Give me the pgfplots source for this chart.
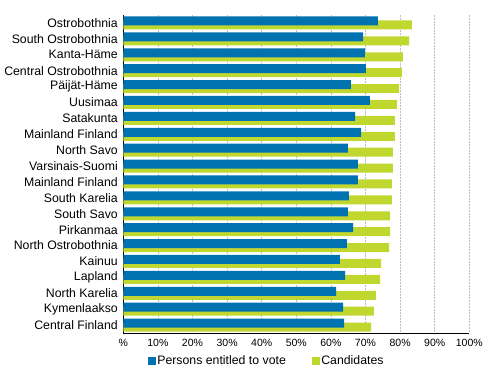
\documentclass[border=0pt]{standalone}
\usepackage{pgfplots}
\pgfplotsset{compat=1.18}
\usepackage{fontspec}
\setmainfont{Liberation Sans}
\definecolor{cblue}{RGB}{0,114,176}
\definecolor{cgreen}{RGB}{192,215,47}
\definecolor{cgrid}{RGB}{190,190,190}
\begin{document}
\begin{tikzpicture}
\path[use as bounding box] (0,0) rectangle (491pt,370pt);
\begin{axis}[
  at={(123.3pt,37pt)}, anchor=south west,
  scale only axis, width=346pt, height=318pt,
  xmin=0, xmax=100, ymin=-0.5, ymax=19.5,
  y dir=reverse,
  axis x line*=bottom, axis y line*=left,
  axis line style={black, line width=0.8pt, -},
  xtick={0,10,...,100},
  xticklabels={\%,10\%,20\%,30\%,40\%,50\%,60\%,70\%,80\%,90\%,100\%},
  ytick={0,...,19},
  yticklabels={Ostrobothnia,South Ostrobothnia,Kanta-Häme,Central Ostrobothnia,Päijät-Häme,Uusimaa,Satakunta,Mainland Finland\ ,North Savo,Varsinais-Suomi,Mainland Finland,South Karelia,South Savo,Pirkanmaa,North Ostrobothnia,Kainuu,Lapland,North Karelia,Kymenlaakso,Central Finland},
  major tick length=0pt,
  xticklabel style={font=\fontsize{10.5}{12}\selectfont, yshift=-3pt},
  yticklabel style={font=\fontsize{12.3}{14}\selectfont, xshift=-2pt},
  /pgf/number format/assume math mode=true,
  xmajorgrids, grid style={cgrid, line width=0.6pt, dash pattern=on 2pt off 1pt},
  xbar, bar width=9pt,
  legend columns=2,
  legend style={draw=none, at={(0.062,-0.088)}, anchor=west,
    font=\fontsize{12.3}{14}\selectfont,
    /tikz/every even column/.append style={column sep=24pt}},
  legend cell align=left,
]
\addlegendimage{legend image code/.code={\fill[cblue] (0pt,-3.5pt) rectangle (7pt,3.5pt);}}
\addlegendentry{Persons entitled to vote}
\addlegendimage{legend image code/.code={\fill[cgreen] (0pt,-3.5pt) rectangle (7pt,3.5pt);}}
\addlegendentry{Candidates}
\addplot[fill=cgreen, draw=none, bar shift=-2pt, forget plot] coordinates {
(83.4,0) (82.6,1) (80.8,2) (80.5,3) (79.7,4) (79.1,5) (78.5,6) (78.5,7) (77.9,8) (77.9,9)
(77.6,10) (77.6,11) (77.1,12) (77.1,13) (76.8,14) (74.5,15) (74.2,16) (73.0,17) (72.4,18) (71.6,19)};
\addplot[fill=cblue, draw=none, bar shift=2pt, forget plot] coordinates {
(73.6,0) (69.3,1) (69.8,2) (70.1,3) (65.8,4) (71.3,5) (67.0,6) (68.7,7) (64.9,8) (67.8,9)
(67.8,10) (65.2,11) (64.9,12) (66.4,13) (64.6,14) (62.6,15) (64.1,16) (61.5,17) (63.5,18) (63.8,19)};
\end{axis}
\end{tikzpicture}
\end{document}
